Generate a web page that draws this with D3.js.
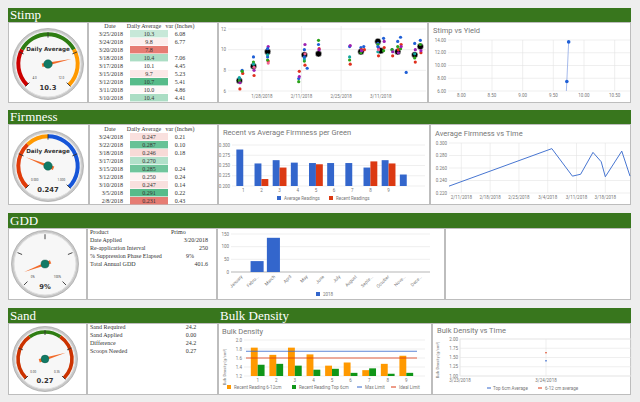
<!DOCTYPE html>
<html><head><meta charset="utf-8">
<script src="https://cdn.jsdelivr.net/npm/d3@7"></script>
<style>
body{margin:0;background:#eeeeee;}
svg{display:block;}
</style></head><body>
<svg id="c" width="640" height="402"></svg>
<script>
// ── Data ──────────────────────────────────────────────────────────────────
const stimpTable = [
  ["3/25/2018", 10.3, "6.08"], ["3/24/2018", 9.8, "6.77"], ["3/20/2018", 7.8, ""],
  ["3/18/2018", 10.4, "7.06"], ["3/17/2018", 10.1, "4.45"], ["3/15/2018", 9.7, "5.23"],
  ["3/12/2018", 10.7, "5.41"], ["3/11/2018", 10.0, "4.86"], ["3/10/2018", 10.4, "4.41"]
];
const firmTable = [
  ["3/24/2018", 0.247, "0.21"], ["3/22/2018", 0.287, "0.10"], ["3/18/2018", 0.246, "0.18"],
  ["3/17/2018", 0.270, ""], ["3/15/2018", 0.285, "0.24"], ["3/12/2018", 0.250, "0.24"],
  ["3/10/2018", 0.247, "0.14"], ["3/5/2018", 0.291, "0.22"], ["2/8/2018", 0.231, "0.43"]
];
const gddLabels = ["Product", "Date Applied", "Re-application Interval", "% Suppression Phase Elapsed", "Total Annual GDD"];
const gddValues = ["Primo", "3/20/2018", "250", "9%", "401.6"];
const sandLabels = ["Sand Required", "Sand Applied", "Difference", "Scoops Needed"];
const sandValues = ["24.2", "0.00", "24.2", "0.27"];

// Stimp scatter: readings per date, and daily averages
const scatterDates = ["1/20/2018","1/21/2018","1/25/2018","1/30/2018","2/10/2018","2/12/2018","2/13/2018",
  "2/17/2018","2/28/2018","3/4/2018","3/5/2018","3/10/2018","3/12/2018","3/15/2018","3/17/2018",
  "3/18/2018","3/20/2018","3/23/2018","3/25/2018"];
const scatterVals = [
  [7.2, 6.2, 7.0, 6.8, 7.3], [8.0, 7.7, 7.9], [9.3, 7.5, 8.8, 8.0, 8.6, 8.3],
  [9.3, 8.9, 9.0, 10.3, 9.5, 8.7, 10.1], [7.2, 7.9, 6.9, 7.4], [10.0, 8.5, 8.9, 10.5, 9.1, 9.6, 9.3],
  [8.2], [10.5, 10.1, 10.9, 10.0], [10.3, 8.6, 9.0, 10.4, 9.3], [10.2, 10.0, 9.7, 9.9],
  [10.3, 10.0], [10.6, 9.4, 10.5, 10.2, 9.8, 10.0, 10.3], [11.1, 10.2, 9.9, 10.8],
  [10.0, 9.4, 10.0, 9.8], [10.8, 10.0, 10.3, 9.7], [11.2, 10.5, 10.1, 10.3], [7.8],
  [10.6, 8.8, 9.2, 10.0, 9.6], [10.9, 9.7, 10.5, 9.9]
];
const avgDates = ["1/20/2018","1/25/2018","1/30/2018","2/12/2018","2/17/2018","3/4/2018","3/10/2018","3/11/2018","3/17/2018","3/23/2018","3/25/2018"];
const avgVals = [7.0, 8.4, 9.8, 9.5, 9.6, 9.8, 10.8, 9.9, 9.8, 9.5, 10.3];
const scatterTicks = ["1/28/2018", "2/11/2018", "2/25/2018", "3/11/2018"];

const yieldX = [9.71, 9.72, 9.75];
const yieldY = [5.5, 7.5, 13.7];

const greens = ["1","2","3","4","5","6","7","8","9",""];
const firmAvg = [0.289, 0.255, 0.263, 0.257, 0.256, 0.256, 0.256, 0.245, 0.263, 0.228];
const firmRecent = [null, 0.217, 0.245, null, 0.253, null, null, 0.260, 0.255, null];

const firmLineDates = ["2/8/2018","3/5/2018","3/10/2018","3/12/2018","3/15/2018","3/17/2018","3/18/2018","3/22/2018","3/24/2018"];
const firmLineVals = [0.231, 0.291, 0.247, 0.250, 0.285, 0.270, 0.246, 0.287, 0.247];
const firmLineTicks = ["2/11/2018","2/18/2018","2/25/2018","3/4/2018","3/11/2018","3/18/2018"];

const months = ["January","Febru...","March","April","May","June","July","August","Septe...","October","Nove...","Dece..."];
const gddMonthly = [0, 43, 135, 0, 0, 0, 0, 0, 0, 0, 0, 0];

const bulkGreens = ["1","2","3","4","5","6","7","8","9"];
const bulkDeep = [1.83, 1.67, 1.83, 1.68, 1.43, 1.50, 1.33, 1.47, 1.65];
const bulkTop = [1.45, 1.47, 1.43, 1.34, 1.36, 1.27, 1.37, 1.25, 1.27];
const bulkMax = 1.75, bulkIdeal = 1.6;
const bulkTimeDates = ["3/23/2018", "3/24/2018"];
const bulkTimeTop = [null, 1.41];
const bulkTimeDeep = [null, 1.63];

// ── Helpers ───────────────────────────────────────────────────────────────
const svg = d3.select("#c");
const parse = d3.timeParse("%m/%d/%Y");
const fmtDate = d3.timeFormat("%-m/%-d/%Y");
const GREEN = "#38761d", GRID = "#e4e4e4", TXT = "#777", SERIF = "Liberation Serif, serif", SANS = "Roboto, sans-serif";
const BLUE = "#3366cc", RED = "#dc3912", ORANGE = "#ff9900", DGREEN = "#109618";
const palette = ["#1f5fd6", "#e0301e", "#2aa21a", "#9c1fb0", "#12a5a0", "#f06292"];

function panel(x, y, w, h) {
  svg.append("rect").attr("x", x + 0.5).attr("y", y + 0.5).attr("width", w - 1).attr("height", h - 1)
    .attr("fill", "#fff").attr("stroke", "#bdbdbd");
}
function header(x, y, w, h, label) {
  svg.append("rect").attr("x", x).attr("y", y).attr("width", w).attr("height", h).attr("fill", GREEN);
  svg.append("text").attr("x", x + 2).attr("y", y + h - 3).attr("fill", "#fff")
    .attr("font-family", SERIF).attr("font-size", 13).text(label);
}
function txt(g, x, y, s, opt = {}) {
  return g.append("text").attr("x", x).attr("y", y).text(s)
    .attr("font-family", opt.font || SANS).attr("font-size", opt.size || 5)
    .attr("fill", opt.fill || TXT).attr("text-anchor", opt.anchor || "start")
    .attr("transform", opt.rot ? `rotate(${opt.rot},${x},${y})` : null);
}
function yGrid(g, y, x0, x1, ticks, fmt) {
  ticks.forEach(t => {
    g.append("line").attr("x1", x0).attr("x2", x1).attr("y1", y(t)).attr("y2", y(t)).attr("stroke", GRID).attr("stroke-width", 0.6);
    txt(g, x0 - 2, y(t) + 1.7, fmt(t), { anchor: "end", size: 4.5 });
  });
}

// ── Gauge ─────────────────────────────────────────────────────────────────
function gauge(cx, cy, r, value, min, max, bands, minLab, maxLab, label, valText) {
  const g = svg.append("g").attr("transform", `translate(${cx},${cy})`);
  g.append("circle").attr("r", r + 2.5).attr("fill", "#c8c8c8").attr("stroke", "#999").attr("stroke-width", 0.6);
  g.append("circle").attr("r", r).attr("fill", "#f7f7f7").attr("stroke", "#e0e0e0");
  const ang = d3.scaleLinear().domain([min, max]).range([-135, 135].map(d => d * Math.PI / 180));
  bands.forEach(b => {
    g.append("path").attr("fill", b[2]).attr("d", d3.arc().innerRadius(r * 0.84).outerRadius(r * 0.96)
      .startAngle(ang(b[0])).endAngle(ang(b[1]))());
  });
  d3.range(5).forEach(i => {
    const a = ang(min + (max - min) * i / 4);
    g.append("line").attr("x1", Math.sin(a) * r * 0.8).attr("y1", -Math.cos(a) * r * 0.8)
      .attr("x2", Math.sin(a) * r * 0.96).attr("y2", -Math.cos(a) * r * 0.96).attr("stroke", "#333").attr("stroke-width", 0.9);
  });
  [[min, minLab, 1], [max, maxLab, -1]].forEach(([v, l, s]) => {
    const a = ang(v);
    txt(g, Math.sin(a) * r * 0.7 + s * 3, -Math.cos(a) * r * 0.7 - 1, l, { size: 3, fill: "#444", anchor: "middle" });
  });
  if (label) txt(g, 0, -r * 0.4, label, { size: 5.6, fill: "#333", anchor: "middle", font: "DejaVu Sans, sans-serif" })
    .attr("font-weight", "bold");
  const a = ang(value), L = r * 0.72;
  const nx = Math.sin(a), ny = -Math.cos(a);
  g.append("path").attr("fill", "#f26b2a")
    .attr("d", `M${nx * L},${ny * L}L${-ny * 1.8 - nx * 6},${nx * 1.8 - ny * 6}L${ny * 1.8 - nx * 6},${-nx * 1.8 - ny * 6}Z`);
  g.append("circle").attr("r", r * 0.13).attr("fill", "#117a65").attr("stroke", "#0b5345").attr("stroke-width", 0.4);
  txt(g, 0, r * 0.8, valText, { size: 6.8, fill: "#333", anchor: "middle", font: "DejaVu Sans, sans-serif" }).attr("font-weight", "bold");
}

// ── Table ─────────────────────────────────────────────────────────────────
function dataTable(x0, y0, rows, mid) {
  const g = svg.append("g");
  const vals = rows.map(r => r[1]);
  const col = d3.scaleLinear().domain([d3.min(vals), mid, d3.max(vals)]).range(["#e67c73", "#ffffff", "#57bb8a"]);
  txt(g, x0 + 21, y0, "Date", { font: SERIF, size: 6, fill: "#333", anchor: "middle" });
  txt(g, x0 + 55, y0, "Daily Average", { font: SERIF, size: 6, fill: "#333", anchor: "middle" });
  txt(g, x0 + 91, y0, "var (Inches)", { font: SERIF, size: 6, fill: "#333", anchor: "middle" });
  const fmt = mid < 1 ? d3.format(".3f") : d3.format(".1f");
  rows.forEach((r, i) => {
    const y = y0 + 8 + i * 8;
    g.append("rect").attr("x", x0 + 41).attr("y", y - 6).attr("width", 38).attr("height", 7.4).attr("fill", col(r[1]));
    txt(g, x0 + 34, y, r[0], { font: SERIF, size: 6, fill: "#333", anchor: "end" });
    txt(g, x0 + 60, y, fmt(r[1]), { font: SERIF, size: 6, fill: "#333", anchor: "middle" });
    txt(g, x0 + 91, y, r[2], { font: SERIF, size: 6, fill: "#333", anchor: "middle" });
  });
}
function kvTable(x0, y0, labels, values, vx, anchor) {
  const g = svg.append("g");
  labels.forEach((l, i) => {
    txt(g, x0, y0 + i * 8, l, { font: SERIF, size: 6, fill: "#333" });
    txt(g, vx[i], y0 + i * 8, values[i], { font: SERIF, size: 6, fill: "#333", anchor: anchor[i] });
  });
}

// ── Layout ────────────────────────────────────────────────────────────────
header(8, 8, 623, 14, "Stimp");
[[8, 80], [88, 130], [218, 210], [428, 203]].forEach(([x, w]) => panel(x, 22, w, 81));
header(8, 110, 623, 14, "Firmness");
[[8, 81], [89, 129], [218, 212], [430, 201]].forEach(([x, w]) => panel(x, 124, w, 81));
header(8, 213, 623, 15, "GDD");
[[8, 79], [87, 130], [217, 228], [445, 186]].forEach(([x, w]) => panel(x, 228, w, 72));
header(8, 308, 210, 15, "Sand");
header(218, 308, 413, 15, "Bulk Density");
[[8, 79], [87, 131], [218, 214], [432, 199]].forEach(([x, w]) => panel(x, 323, w, 72));

// gauges
gauge(48, 64, 33, 10.3, 4, 12, [[4, 6.2, "#cc0000"], [6.2, 9.8, "#2e7d12"], [9.8, 12, ORANGE]], "4.0", "12.0", "Daily Average", "10.3");
gauge(48, 166, 33, 0.247, 0, 1, [[0, 0.34, "#e03c0a"], [0.34, 0.5, ORANGE], [0.5, 1, "#1655d8"]], "0.000", "1.000", "Daily Average", "0.247");
gauge(45, 264, 31, 9, 0, 100, [], "0%", "100%", null, "9%");
gauge(45, 359, 30, 0.27, 0, 0.35, [[0, 0.13, "#cc3300"], [0.13, 0.22, "#2e7d12"], [0.22, 0.35, "#cc3300"]], "0.00", "0.35", null, "0.27");

// tables
dataTable(89, 28, stimpTable, 10.1);
dataTable(89, 131, firmTable, 0.252);
kvTable(90, 234, gddLabels, gddValues, [171, 208, 208, 190, 208], ["start", "end", "end", "middle", "end"]);
kvTable(90, 329, sandLabels, sandValues, [191, 191, 191, 191], ["middle", "middle", "middle", "middle"]);

// ── Stimp scatter ────────────────────────────────────────────────────────
{
  const g = svg.append("g");
  const x = d3.scaleTime().domain([parse("1/16/2018"), parse("3/27/2018")]).range([228, 426]);
  const y = d3.scaleLinear().domain([6, 12]).range([91, 29]);
  yGrid(g, y, 228, 426, [6, 8, 10, 12], d3.format("d"));
  scatterTicks.forEach(t => {
    const d = parse(t);
    g.append("line").attr("x1", x(d)).attr("x2", x(d)).attr("y1", 26).attr("y2", 93).attr("stroke", GRID).attr("stroke-width", 0.6);
    txt(g, x(d), 98, t, { anchor: "middle", size: 4.5 });
  });
  avgDates.forEach((d, i) => g.append("circle").attr("cx", x(parse(d))).attr("cy", y(avgVals[i])).attr("r", 3.2)
    .attr("fill", "#000").attr("stroke", "#fff").attr("stroke-width", 0.5));
  scatterDates.forEach((d, i) => scatterVals[i].forEach((v, j) =>
    g.append("circle").attr("cx", x(parse(d)) + (j % 2) * 0.6).attr("cy", y(v)).attr("r", 1.6).attr("fill", palette[j % palette.length])));
}

// ── Stimp vs Yield ───────────────────────────────────────────────────────
{
  const g = svg.append("g");
  txt(g, 433, 33, "Stimp vs Yield", { size: 7.5, fill: "#777" });
  const x = d3.scaleLinear().domain([7.75, 10.75]).range([446, 630]);
  const y = d3.scaleLinear().domain([6, 14]).range([91, 40]);
  g.append("clipPath").attr("id", "cy").append("rect").attr("x", 446).attr("y", 38).attr("width", 184).attr("height", 53);
  yGrid(g, y, 448, 630, [6, 8, 10, 12, 14], d3.format(".2f"));
  [8, 8.5, 9, 9.5, 10, 10.5].forEach(t => {
    g.append("line").attr("x1", x(t)).attr("x2", x(t)).attr("y1", 40).attr("y2", 91).attr("stroke", GRID).attr("stroke-width", 0.6);
    txt(g, x(t), 97, d3.format(".2f")(t), { anchor: "middle", size: 4.5 });
  });
  const pts = yieldX.map((v, i) => [x(v), y(yieldY[i])]);
  g.append("path").attr("clip-path", "url(#cy)").attr("d", d3.line()(pts)).attr("fill", "none").attr("stroke", "#8fa8e6").attr("stroke-width", 0.8);
  pts.slice(1).forEach(p => g.append("circle").attr("cx", p[0]).attr("cy", p[1]).attr("r", 1.8).attr("fill", "#1f5fd6"));
}

// ── Firmness bars ────────────────────────────────────────────────────────
{
  const g = svg.append("g");
  txt(g, 223, 135, "Recent vs Average Firmness per Green", { size: 7.5 });
  const x = d3.scaleBand().domain(d3.range(greens.length)).range([232, 418]).padding(0.24);
  const y = d3.scaleLinear().domain([0.2, 0.3]).range([186, 145]);
  yGrid(g, y, 232, 425, [0.2, 0.225, 0.25, 0.275, 0.3], d3.format(".3f"));
  const bw = x.bandwidth() / 2;
  greens.forEach((k, i) => {
    g.append("rect").attr("x", x(i)).attr("y", y(firmAvg[i])).attr("width", bw).attr("height", y(0.2) - y(firmAvg[i])).attr("fill", BLUE);
    if (firmRecent[i] != null)
      g.append("rect").attr("x", x(i) + bw).attr("y", y(firmRecent[i])).attr("width", bw).attr("height", y(0.2) - y(firmRecent[i])).attr("fill", RED);
    txt(g, x(i) + bw, 192, k, { anchor: "middle", size: 4.5 });
  });
  g.append("rect").attr("x", 277).attr("y", 196).attr("width", 4).attr("height", 4).attr("fill", BLUE);
  txt(g, 284, 199.5, "Average Readings", { size: 4.5 });
  g.append("rect").attr("x", 329).attr("y", 196).attr("width", 4).attr("height", 4).attr("fill", RED);
  txt(g, 336, 199.5, "Recent Readings", { size: 4.5 });
}

// ── Firmness vs time ─────────────────────────────────────────────────────
{
  const g = svg.append("g");
  txt(g, 435, 136, "Average Firmness vs Time", { size: 7.5 });
  const x = d3.scaleTime().domain([parse("2/8/2018"), parse("3/24/2018")]).range([449, 630]);
  const y = d3.scaleLinear().domain([0.22, 0.3]).range([193, 143]);
  yGrid(g, y, 449, 630, [0.22, 0.24, 0.26, 0.28, 0.3], d3.format(".3f"));
  firmLineTicks.forEach(t => {
    const d = parse(t);
    g.append("line").attr("x1", x(d)).attr("x2", x(d)).attr("y1", 143).attr("y2", 193).attr("stroke", GRID).attr("stroke-width", 0.6);
    txt(g, x(d), 199, t, { anchor: "middle", size: 4.5 });
  });
  const pts = firmLineDates.map((d, i) => [x(parse(d)), y(firmLineVals[i])]);
  g.append("path").attr("d", d3.line()(pts)).attr("fill", "none").attr("stroke", BLUE).attr("stroke-width", 0.9);
}

// ── GDD monthly ──────────────────────────────────────────────────────────
{
  const g = svg.append("g");
  const x = d3.scaleBand().domain(months).range([231, 430]).padding(0.2);
  const y = d3.scaleLinear().domain([0, 150]).range([272, 234]);
  yGrid(g, y, 231, 430, [0, 50, 100, 150], d3.format("d"));
  g.append("line").attr("x1", 231).attr("x2", 430).attr("y1", y(0)).attr("y2", y(0)).attr("stroke", "#999").attr("stroke-width", 0.6);
  months.forEach((m, i) => {
    if (gddMonthly[i] > 0)
      g.append("rect").attr("x", x(m)).attr("y", y(gddMonthly[i])).attr("width", x.bandwidth()).attr("height", y(0) - y(gddMonthly[i])).attr("fill", BLUE);
    txt(g, x(m) + x.bandwidth() / 2 + 2, 277, m, { anchor: "end", size: 4.5, rot: -45 });
  });
  g.append("rect").attr("x", 316).attr("y", 292).attr("width", 4).attr("height", 4).attr("fill", BLUE);
  txt(g, 323, 295.5, "2018", { size: 4.5 });
}

// ── Bulk density bars ────────────────────────────────────────────────────
{
  const g = svg.append("g");
  txt(g, 222, 334, "Bulk Density", { size: 7.5 });
  txt(g, 226, 367, "Bulk Density (g/cm³)", { size: 4, anchor: "middle", rot: -90 });
  const x = d3.scaleBand().domain(bulkGreens).range([246, 418]).padding(0.26);
  const y = d3.scaleLinear().domain([1.2, 2.0]).range([376, 340]);
  yGrid(g, y, 244, 425, [1.2, 1.4, 1.6, 1.8, 2.0], d3.format(".1f"));
  const bw = x.bandwidth() / 2;
  bulkGreens.forEach((k, i) => {
    g.append("rect").attr("x", x(k)).attr("y", y(bulkDeep[i])).attr("width", bw).attr("height", y(1.2) - y(bulkDeep[i])).attr("fill", ORANGE);
    g.append("rect").attr("x", x(k) + bw).attr("y", y(bulkTop[i])).attr("width", bw).attr("height", y(1.2) - y(bulkTop[i])).attr("fill", DGREEN);
    txt(g, x(k) + bw, 382, k, { anchor: "middle", size: 4.5 });
  });
  [[bulkMax, BLUE], [bulkIdeal, RED]].forEach(([v, c]) =>
    g.append("line").attr("x1", 246).attr("x2", 417).attr("y1", y(v)).attr("y2", y(v)).attr("stroke", c).attr("stroke-width", 0.8));
  const leg = [[ORANGE, "Recent Reading 6-12cm", 227, "rect"], [DGREEN, "Recent Reading Top 6cm", 292, "rect"], [BLUE, "Max Limit", 358, "line"], [RED, "Ideal Limit", 392, "line"]];
  leg.forEach(([c, l, lx, t]) => {
    if (t === "rect") g.append("rect").attr("x", lx).attr("y", 385).attr("width", 4).attr("height", 4).attr("fill", c);
    else g.append("line").attr("x1", lx - 1).attr("x2", lx + 4).attr("y1", 387).attr("y2", 387).attr("stroke", c).attr("stroke-width", 1);
    txt(g, lx + 7, 389, l, { size: 4.5 });
  });
}

// ── Bulk density vs time ─────────────────────────────────────────────────
{
  const g = svg.append("g");
  txt(g, 437, 333, "Bulk Density vs Time", { size: 7.5 });
  txt(g, 439, 360, "Bulk Density (g/cm³)", { size: 4, anchor: "middle", rot: -90 });
  const x = d3.scaleTime().domain([parse("3/23/2018"), parse("3/25/2018")]).range([460, 632]);
  const y = d3.scaleLinear().domain([1, 2]).range([376, 339]);
  g.append("rect").attr("x", 460).attr("y", 339).attr("width", 171).attr("height", 37).attr("fill", "none").attr("stroke", GRID).attr("stroke-width", 0.6);
  yGrid(g, y, 460, 631, [1, 1.25, 1.5, 1.75, 2], d3.format(".2f"));
  bulkTimeDates.forEach(t => {
    const d = parse(t);
    g.append("line").attr("x1", x(d)).attr("x2", x(d)).attr("y1", 339).attr("y2", 376).attr("stroke", GRID).attr("stroke-width", 0.6);
    txt(g, x(d), 382, fmtDate(d), { anchor: "middle", size: 4.5 });
  });
  bulkTimeDates.forEach((d, i) => {
    if (bulkTimeTop[i] != null) g.append("circle").attr("cx", x(parse(d))).attr("cy", y(bulkTimeTop[i])).attr("r", 0.8).attr("fill", BLUE);
    if (bulkTimeDeep[i] != null) g.append("circle").attr("cx", x(parse(d))).attr("cy", y(bulkTimeDeep[i])).attr("r", 0.8).attr("fill", RED);
  });
  g.append("line").attr("x1", 487).attr("x2", 491).attr("y1", 388).attr("y2", 388).attr("stroke", BLUE).attr("stroke-width", 1);
  txt(g, 493, 389.5, "Top 6cm Average", { size: 4.5 });
  g.append("line").attr("x1", 538).attr("x2", 542).attr("y1", 388).attr("y2", 388).attr("stroke", RED).attr("stroke-width", 1);
  txt(g, 545, 389.5, "6-12 cm average", { size: 4.5 });
}
</script></body></html>
